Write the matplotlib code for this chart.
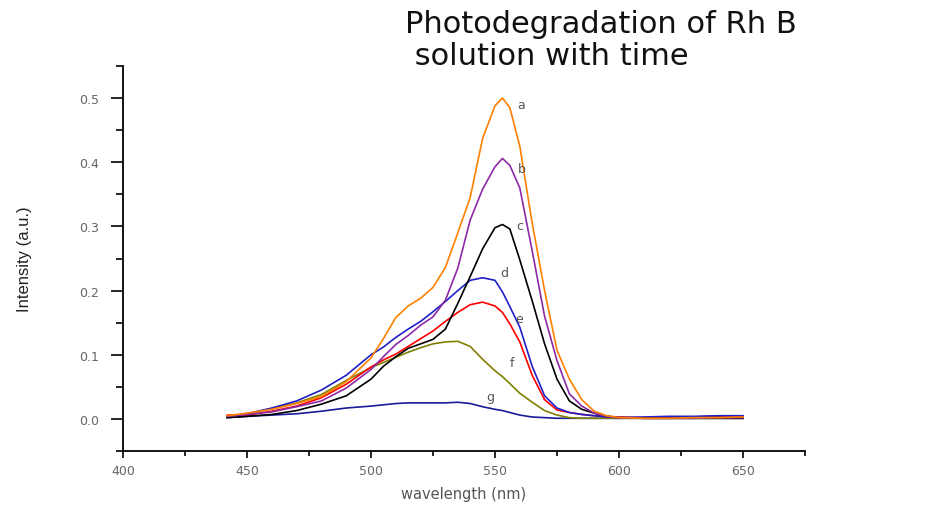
import matplotlib
matplotlib.use("Agg")
import matplotlib.pyplot as plt
from matplotlib.ticker import MultipleLocator, FormatStrFormatter

# spectra (intensity, a.u.)
wavelength = [442, 450, 460, 470, 480, 490, 500, 505, 510, 515, 520, 525, 530,
              535, 540, 545, 550, 553, 556, 560, 565, 570, 575, 580, 585, 590,
              595, 600, 610, 620, 630, 640, 650]
spec_a = [0.005, 0.009, 0.015, 0.024, 0.035, 0.058, 0.095, 0.125, 0.158, 0.176, 0.188,
          0.205, 0.236, 0.290, 0.345, 0.437, 0.488, 0.500, 0.485, 0.425, 0.305, 0.200,
          0.107, 0.062, 0.030, 0.012, 0.005, 0.002, 0.001, 0.001, 0.002, 0.002, 0.003]
spec_b = [0.004, 0.007, 0.011, 0.019, 0.028, 0.048, 0.077, 0.097, 0.116, 0.130, 0.146,
          0.159, 0.185, 0.235, 0.310, 0.358, 0.393, 0.406, 0.395, 0.360, 0.262, 0.160,
          0.091, 0.039, 0.020, 0.009, 0.004, 0.002, 0.001, 0.001, 0.001, 0.002, 0.002]
spec_c = [0.002, 0.004, 0.007, 0.013, 0.023, 0.036, 0.062, 0.082, 0.097, 0.110, 0.117,
          0.124, 0.140, 0.180, 0.222, 0.265, 0.298, 0.303, 0.296, 0.248, 0.184, 0.117,
          0.062, 0.028, 0.015, 0.009, 0.004, 0.002, 0.001, 0.001, 0.001, 0.001, 0.001]
spec_d = [0.004, 0.008, 0.017, 0.028, 0.045, 0.068, 0.100, 0.112, 0.127, 0.140, 0.152,
          0.167, 0.183, 0.200, 0.216, 0.220, 0.216, 0.198, 0.175, 0.143, 0.082, 0.036,
          0.017, 0.010, 0.007, 0.005, 0.003, 0.002, 0.003, 0.004, 0.004, 0.005, 0.005]
spec_e = [0.006, 0.006, 0.012, 0.020, 0.033, 0.054, 0.081, 0.092, 0.101, 0.113, 0.125,
          0.137, 0.152, 0.166, 0.178, 0.182, 0.176, 0.166, 0.148, 0.120, 0.068, 0.030,
          0.014, 0.010, 0.007, 0.005, 0.004, 0.003, 0.002, 0.003, 0.003, 0.004, 0.004]
spec_f = [0.003, 0.008, 0.016, 0.025, 0.038, 0.060, 0.080, 0.088, 0.096, 0.104, 0.111,
          0.117, 0.120, 0.121, 0.113, 0.093, 0.075, 0.066, 0.055, 0.040, 0.026, 0.013,
          0.006, 0.002, 0.001, 0.001, 0.001, 0.001, 0.001, 0.001, 0.001, 0.001, 0.001]
spec_g = [0.002, 0.004, 0.006, 0.008, 0.012, 0.017, 0.020, 0.022, 0.024, 0.025, 0.025,
          0.025, 0.025, 0.026, 0.024, 0.019, 0.015, 0.013, 0.010, 0.006, 0.003, 0.002,
          0.001, 0.001, 0.001, 0.001, 0.001, 0.001, 0.001, 0.001, 0.001, 0.001, 0.001]

curve_names = ["a", "b", "c", "d", "e", "f", "g"]
label_x = [560.5, 561, 560, 553.6, 559.7, 557, 548]
label_y = [0.49, 0.39, 0.302, 0.228, 0.156, 0.088, 0.035]

COLORS = ["#ff8000", "#8c2aa6", "#000000", "#2020c8", "#ff0000", "#808000", "#1a1a9a"]
spectra = [spec_a, spec_b, spec_c, spec_d, spec_e, spec_f, spec_g]

fig = plt.figure(figsize=(9.29, 5.06), dpi=100)
ax = fig.add_axes([0.1324, 0.1067, 0.7341, 0.7609])

for spec, c in reversed(list(zip(spectra, COLORS))):
    ax.plot(wavelength, spec, color=c, lw=1.2)

for name, x, y in zip(curve_names, label_x, label_y):
    ax.text(x, y, name, ha="center", va="center", fontsize=9, color="#555555",
            family="DejaVu Sans")

ax.set_xlim(400, 675)
ax.set_ylim(-0.05, 0.55)
ax.xaxis.set_major_locator(MultipleLocator(50))
ax.xaxis.set_minor_locator(MultipleLocator(25))
ax.yaxis.set_major_locator(MultipleLocator(0.1))
ax.yaxis.set_minor_locator(MultipleLocator(0.05))
ax.yaxis.set_major_formatter(FormatStrFormatter("%.1f"))

for side in ("top", "right"):
    ax.spines[side].set_visible(False)
for side in ("left", "bottom"):
    ax.spines[side].set_linewidth(1.3)
ax.tick_params(axis="y", which="major", direction="out", length=9, width=1.2,
               labelsize=9, labelcolor="#666666", pad=8)
ax.tick_params(axis="y", which="minor", direction="out", length=5, width=1.2)
ax.tick_params(axis="x", which="major", direction="out", length=5, width=1.2,
               labelsize=9, labelcolor="#666666", pad=4)
ax.tick_params(axis="x", which="minor", direction="out", length=3.5, width=1.2)

ax.set_xlabel("wavelength (nm)", fontsize=10.5, color="#555555", labelpad=7,
              family="DejaVu Sans")
ax.set_ylabel("Intensity (a.u.)", fontsize=12, color="#222222", labelpad=34,
              family="Liberation Sans")

fig.text(0.436, 0.98, "Photodegradation of Rh B\n solution with time",
         ha="left", va="top", fontsize=22, family="DejaVu Sans",
         linespacing=1.12, color="#111111")

fig.savefig("out.png", dpi=100)
